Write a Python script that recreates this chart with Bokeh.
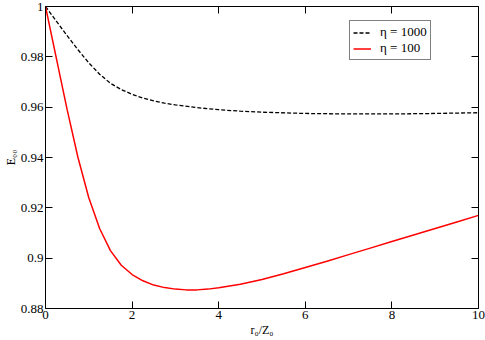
from bokeh.plotting import figure
from bokeh.models import LinearAxis, FixedTicker, Range1d, Legend, LegendItem
from bokeh.embed import file_html
from bokeh.resources import INLINE

# eta = 1000 (dashed black)
x_1000 = [0, 0.25, 0.5, 0.75, 1.0, 1.25, 1.5, 1.75, 2.0, 2.25, 2.5, 2.75, 3.0, 3.5, 4.0, 4.5,
          5.0, 6.0, 7.0, 8.0, 9.0, 10.0]
y_1000 = [1.0, 0.9942, 0.9884, 0.9828, 0.9776, 0.9731, 0.9695, 0.9670, 0.9651, 0.9636, 0.9625,
          0.9616, 0.9609, 0.9598, 0.9590, 0.9584, 0.9580, 0.9575, 0.9573, 0.9573, 0.9575, 0.9578]

# eta = 100 (solid red)
x_100 = [0, 0.25, 0.5, 0.75, 1.0, 1.25, 1.5, 1.75, 2.0, 2.25, 2.5, 2.75, 3.0, 3.25, 3.5, 3.75,
         4.0, 4.5, 5.0, 5.5, 6.0, 6.5, 7.0, 7.5, 8.0, 8.5, 9.0, 9.5, 10.0]
y_100 = [1.0, 0.9795, 0.9590, 0.9400, 0.9240, 0.9118, 0.9030, 0.8972, 0.8935, 0.8910, 0.8893,
         0.8883, 0.8877, 0.8874, 0.8874, 0.8877, 0.8882, 0.8896, 0.8915, 0.8938, 0.8963, 0.8988,
         0.9014, 0.9040, 0.9066, 0.9092, 0.9118, 0.9144, 0.9170]

x_ticks = [0, 2, 4, 6, 8, 10]
y_ticks = [0.88, 0.9, 0.92, 0.94, 0.96, 0.98, 1.0]
y_tick_labels = ["0.88", "0.9", "0.92", "0.94", "0.96", "0.98", "1"]
series_labels = ["\u03b7 = 1000", "\u03b7 = 100"]

FONT = "Liberation Serif"

p = figure(width=485, height=340, output_backend="svg", toolbar_location=None,
           x_range=Range1d(0, 10), y_range=Range1d(0.88, 1.0),
           x_axis_location=None, y_axis_location=None,
           min_border_left=43, min_border_right=7, min_border_top=6, min_border_bottom=32)
p.grid.visible = False
p.outline_line_color = None
p.background_fill_color = "white"
p.border_fill_color = "white"


def style(ax, labels=True):
    ax.axis_line_color = "black"
    ax.axis_line_width = 1
    ax.major_tick_line_color = "black"
    ax.major_tick_in = 7
    ax.major_tick_out = 0
    ax.minor_tick_in = 0
    ax.minor_tick_out = 0
    ax.major_label_text_font = FONT
    ax.axis_label_text_font = FONT
    ax.axis_label_text_font_style = "normal"
    ax.major_label_text_color = "black"
    ax.axis_label_text_color = "black"
    ax.major_label_text_font_size = "13px"
    ax.axis_label_text_font_size = "12px"
    if not labels:
        ax.major_label_text_font_size = "1px"
        ax.major_label_standoff = 0
        ax.major_label_overrides = {t: "" for t in ax.ticker.ticks}


xb = LinearAxis(ticker=FixedTicker(ticks=x_ticks), axis_label="r\u2080/Z\u2080")
style(xb)
xb.major_label_standoff = 2
xb.axis_label_standoff = 1
p.add_layout(xb, "below")

yl = LinearAxis(ticker=FixedTicker(ticks=y_ticks), axis_label="E\u2080\u2080")
style(yl)
yl.major_label_overrides = {t: s for t, s in zip(y_ticks, y_tick_labels)}
yl.major_label_standoff = 2
yl.axis_label_standoff = 0
p.add_layout(yl, "left")

xt = LinearAxis(ticker=FixedTicker(ticks=x_ticks))
style(xt, labels=False)
p.add_layout(xt, "above")

yr = LinearAxis(ticker=FixedTicker(ticks=y_ticks))
style(yr, labels=False)
p.add_layout(yr, "right")

r1 = p.line(x_1000, y_1000, line_color="black", line_width=1.3, line_dash="4 2")
r2 = p.line(x_100, y_100, line_color="#ff0000", line_width=1.5)

legend = Legend(items=[LegendItem(label=series_labels[0], renderers=[r1]),
                       LegendItem(label=series_labels[1], renderers=[r2])],
                location=(304, 248))
legend.label_text_font = FONT
legend.label_text_font_size = "13px"
legend.label_text_color = "black"
legend.label_height = 13
legend.glyph_height = 13
legend.glyph_width = 18
legend.label_standoff = 9
legend.padding = 3
legend.spacing = 0
legend.margin = 0
legend.border_line_color = "black"
legend.border_line_width = 1
legend.background_fill_alpha = 1.0
p.add_layout(legend, "center")

open("out.html", "w").write(file_html(p, INLINE))
